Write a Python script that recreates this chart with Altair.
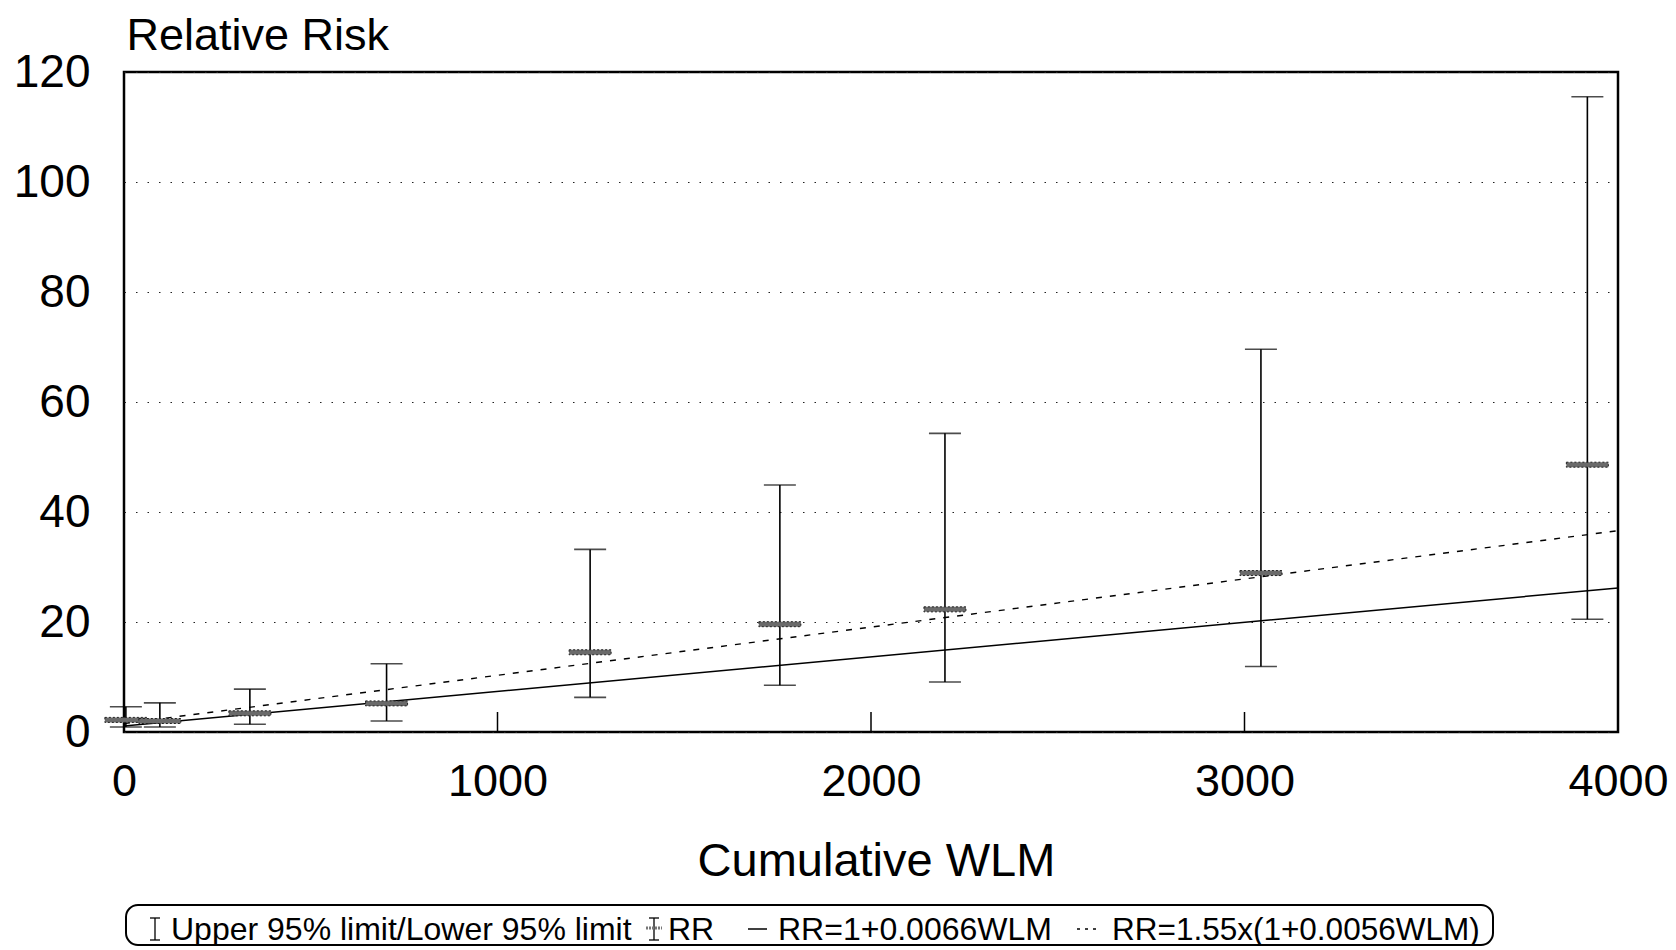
import altair as alt
import pandas as pd

# ---- data ----
wlm = [5, 96, 337, 703, 1248, 1756, 2198, 3044, 3918]
rr = [2.2, 2.0, 3.4, 5.2, 14.5, 19.6, 22.3, 28.9, 48.6]
upper = [4.6, 5.3, 7.8, 12.4, 33.2, 44.9, 54.3, 69.6, 115.5]
lower = [0.9, 0.9, 1.4, 2.0, 6.3, 8.5, 9.1, 11.9, 20.5]

line_wlm = [0, 4000]
line_linear = [1.1, 26.2]      # RR=1+0.0066WLM
line_scaled = [1.55, 36.6]     # RR=1.55x(1+0.0056WLM)

x_ticks = [0, 1000, 2000, 3000, 4000]
inner_ticks = [1000, 2000, 3000]
y_ticks = [0, 20, 40, 60, 80, 100, 120]

legend_labels = ["Upper 95% limit/Lower 95% limit", "RR", "RR=1+0.0066WLM",
                 "RR=1.55x(1+0.0056WLM)"]

W, H = 1494, 660
FONT = "Liberation Sans"

pts = pd.DataFrame({"wlm": wlm, "rr": rr, "upper": upper, "lower": lower})
lines = pd.DataFrame({"wlm": line_wlm, "lin": line_linear, "sc": line_scaled})
ticks_df = pd.DataFrame({"wlm": inner_ticks})
one = pd.DataFrame({"k": [0]})

xs = alt.Scale(domain=[0, 4000], nice=False, zero=False)
ys = alt.Scale(domain=[0, 120], nice=False, zero=False)

x_axis = alt.Axis(values=x_ticks, format="d", labelFontSize=45, labelFont=FONT,
                  labelColor="black", ticks=False, tickSize=0, domain=False,
                  grid=False, labelBaseline="alphabetic", labelPadding=63,
                  labelFlush=False, labelOverlap=False, labelBound=False,
                  title="Cumulative WLM", titleFontSize=47, titleFont=FONT,
                  titleFontWeight="normal", titleColor="black", titleY=143,
                  titleX=W / 2 + 5, titleAlign="center",
                  titleBaseline="alphabetic")
y_axis = alt.Axis(values=y_ticks, labelFontSize=46, labelFont=FONT,
                  labelColor="black", ticks=False, tickSize=0, domain=False,
                  grid=True, gridDash=[1.5, 10], gridColor="#222", gridWidth=1.2,
                  labelPadding=34, labelFlush=False, labelOverlap=False,
                  title="Relative Risk", titleAngle=0, titleAlign="left",
                  titleX=2, titleY=-23, titleBaseline="alphabetic",
                  titleFontSize=45, titleFont=FONT, titleFontWeight="normal",
                  titleColor="black")

base = alt.Chart(pts)

bars = base.mark_rule(color="black", strokeWidth=1.6).encode(
    x=alt.X("wlm:Q", scale=xs, axis=x_axis),
    y=alt.Y("lower:Q", scale=ys, axis=y_axis),
    y2="upper:Q",
)
cap_hi = base.mark_tick(orient="horizontal", size=32, thickness=1.6, color="black").encode(
    x=alt.X("wlm:Q", scale=xs), y=alt.Y("upper:Q", scale=ys))
cap_lo = base.mark_tick(orient="horizontal", size=32, thickness=1.6, color="black").encode(
    x=alt.X("wlm:Q", scale=xs), y=alt.Y("lower:Q", scale=ys))
rr_marks = base.mark_tick(orient="horizontal", size=42, thickness=5, fill="#6a6a6a",
                          stroke="#222", strokeWidth=1, strokeDash=[2, 2],
                          opacity=1).encode(
    x=alt.X("wlm:Q", scale=xs), y=alt.Y("rr:Q", scale=ys))

lin_line = alt.Chart(lines).mark_line(color="black", strokeWidth=1.5).encode(
    x=alt.X("wlm:Q", scale=xs), y=alt.Y("lin:Q", scale=ys))
sc_line = alt.Chart(lines).mark_line(color="black", strokeWidth=1.4,
                                     strokeDash=[6, 8]).encode(
    x=alt.X("wlm:Q", scale=xs), y=alt.Y("sc:Q", scale=ys))

inner = alt.Chart(ticks_df).mark_rule(color="black", strokeWidth=1.5).encode(
    x=alt.X("wlm:Q", scale=xs), y=alt.value(H), y2=alt.value(H - 20))

# ---- legend (drawn below the plot) ----
LY = 868
box = alt.Chart(one).mark_rect(fillOpacity=0, fill="white", stroke="black",
                               strokeWidth=2, cornerRadius=12).encode(
    x=alt.value(2), x2=alt.value(1369), y=alt.value(833), y2=alt.value(873))


def txt(t, x, size=32):
    return alt.Chart(one).mark_text(text=t, align="left", baseline="alphabetic",
                                    font=FONT, fontSize=size, color="black").encode(
        x=alt.value(x), y=alt.value(LY))


def seg(x1, y1, x2, y2, color="black", width=1.3, dash=None):
    kw = dict(color=color, strokeWidth=width)
    if dash:
        kw["strokeDash"] = dash
    return alt.Chart(one).mark_rule(**kw).encode(
        x=alt.value(x1), x2=alt.value(x2), y=alt.value(y1), y2=alt.value(y2))


def ibeam(cx, top, bot, half=5):
    return [seg(cx, top, cx, bot), seg(cx - half, top, cx + half, top),
            seg(cx - half, bot, cx + half, bot)]


legend = [box]
legend += ibeam(31, LY - 22, LY)
legend.append(txt(legend_labels[0], 47))
legend += ibeam(530, LY - 22, LY)
legend.append(seg(522, LY - 12, 538, LY - 12, color="#777", width=3, dash=[2, 1]))
legend.append(txt(legend_labels[1], 544))
legend.append(seg(624, LY - 11, 643, LY - 11, width=1.5))
legend.append(txt(legend_labels[2], 654))
legend.append(seg(953, LY - 11, 972, LY - 11, width=1.5, dash=[3, 5]))
legend.append(txt(legend_labels[3], 988, size=31.5))

chart = alt.layer(bars, lin_line, sc_line, inner, cap_hi, cap_lo, rr_marks, *legend).properties(
    width=W, height=H,
    autosize=alt.AutoSizeParams(type="none"),
    padding={"left": 116, "top": 64, "right": 50, "bottom": 214},
    background="white",
).configure_view(stroke="black", strokeWidth=2.5)

chart.save("out.html", embed_options={"renderer": "svg", "actions": False})
